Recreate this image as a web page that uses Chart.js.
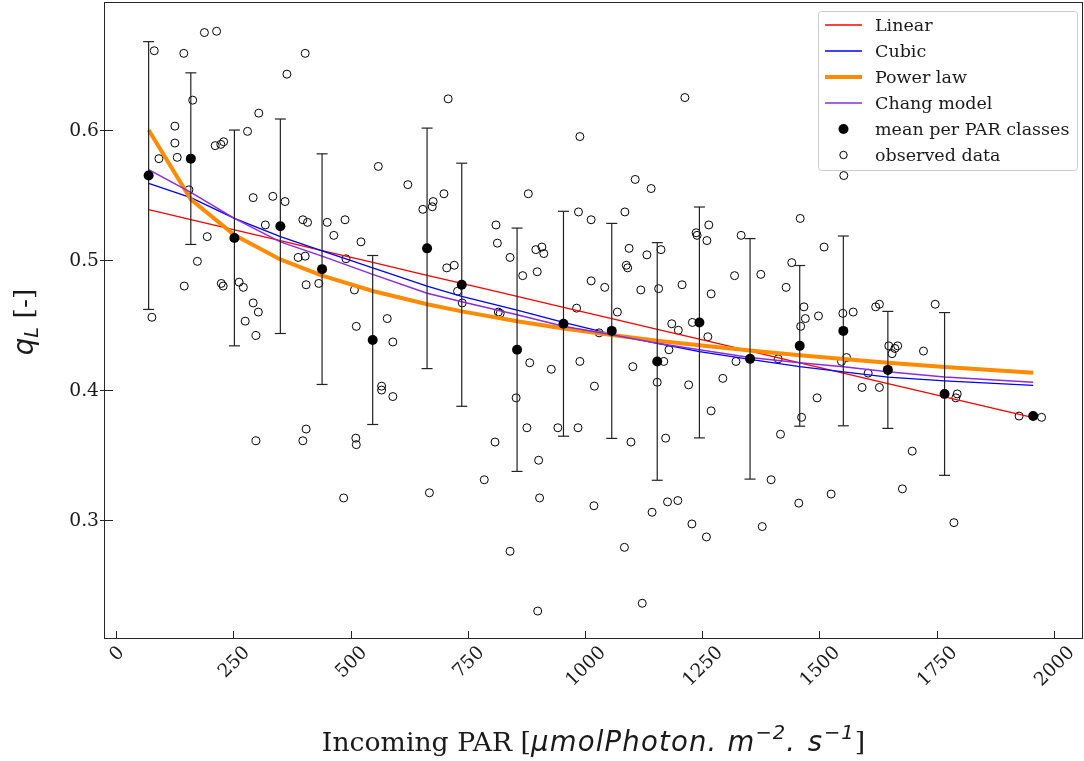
<!DOCTYPE html>
<html>
<head>
<meta charset="utf-8">
<script src="https://cdn.jsdelivr.net/npm/chart.js@4.4.0/dist/chart.umd.min.js"></script>
<style>
  html, body { margin: 0; padding: 0; background: #fff; }
  #wrap { width: 1084px; height: 761px; }
</style>
</head>
<body>
<div id="wrap"><canvas id="chart" width="1084" height="761"></canvas></div>
<script>
// --- Data ---
const xTicks = [0, 250, 500, 750, 1000, 1250, 1500, 1750, 2000];
const yTicks = [0.3, 0.4, 0.5, 0.6];
const yTickLabels = ['0.3', '0.4', '0.5', '0.6'];
const legendLabels = ['Linear', 'Cubic', 'Power law', 'Chang model', 'mean per PAR classes', 'observed data'];

// PAR classes (mean x, mean qL, error half-width)
const classX = [69, 159, 252, 350, 439, 547, 663, 737, 855, 954, 1057, 1154, 1244, 1352, 1458, 1551, 1646, 1767, 1956];
const classMean = [0.565, 0.578, 0.517, 0.526, 0.493, 0.4385, 0.509, 0.481, 0.431, 0.451, 0.4455, 0.422, 0.452, 0.424, 0.434, 0.4455, 0.4155, 0.397, 0.380];
const classErr = [0.103, 0.066, 0.083, 0.0825, 0.0887, 0.065, 0.0925, 0.0935, 0.0936, 0.0865, 0.0827, 0.0914, 0.0888, 0.0925, 0.0618, 0.073, 0.045, 0.0626, null];

// model curves evaluated at the class x values
const linearY = [0.5387, 0.5311, 0.5232, 0.5149, 0.5073, 0.4982, 0.4883, 0.4820, 0.4721, 0.4636, 0.4549, 0.4467, 0.4391, 0.4299, 0.4209, 0.4130, 0.4050, 0.3947, 0.3787];
const cubicY = [0.559, 0.548, 0.532, 0.518, 0.507, 0.494, 0.480, 0.472, 0.4615, 0.452, 0.443, 0.436, 0.4295, 0.4236, 0.418, 0.414, 0.410, 0.407, 0.4036];
const powerY = [0.600, 0.5467, 0.5192, 0.5005, 0.4880, 0.4762, 0.4660, 0.4605, 0.4529, 0.4474, 0.4423, 0.4380, 0.4344, 0.4304, 0.4268, 0.4238, 0.4210, 0.4177, 0.4133];
const changY = [0.5695, 0.552, 0.532, 0.514, 0.503, 0.489, 0.4745, 0.468, 0.458, 0.449, 0.4425, 0.436, 0.431, 0.425, 0.421, 0.418, 0.414, 0.410, 0.406];

// observed data
const obsX = [81, 144, 188, 214, 403, 364, 163, 304, 125, 280, 125, 130, 91, 211, 223, 229, 155, 292, 334, 360,
  318, 398, 408, 450, 488, 464, 194, 173, 388, 403, 490, 522, 145, 224, 228, 262, 271, 405, 432, 508,
  292, 303, 275, 76, 512, 298, 578, 590, 566, 566, 590, 298, 405, 398, 511, 512, 485, 708, 989, 559,
  622, 699, 676, 674, 654, 879, 986, 1013, 810, 813, 840, 895, 908, 912, 867, 898, 705, 721, 728, 738,
  815, 819, 982, 1013, 1069, 1185, 1199, 1030, 1179, 1168, 882, 928, 989, 1102, 1020, 1154, 853, 876, 942, 985,
  1172, 1098, 808, 901, 785, 668, 903, 1019, 1176, 1198, 1143, 840, 1084, 1122, 899, 1213, 1107, 1141, 1085, 1042,
  1094, 1132, 1162, 1088, 1091, 1119, 1157, 1207, 1237, 1239, 1264, 1260, 1269, 1333, 1319, 1375, 1459, 1441, 1429, 1467,
  1470, 1460, 1498, 1229, 1262, 1221, 1294, 1322, 1412, 1495, 1269, 1228, 1259, 1378, 1397, 1417, 1462, 1456, 1525, 1550,
  1572, 1558, 1547, 1620, 1628, 1747, 1648, 1667, 1661, 1655, 1722, 1604, 1591, 1628, 1698, 1677, 1787, 1794, 1791, 1552,
  1510, 1926, 1974];
const obsY = [0.661, 0.659, 0.675, 0.676, 0.659, 0.643, 0.623, 0.613, 0.603, 0.599, 0.590, 0.579, 0.578, 0.588, 0.589, 0.591, 0.554, 0.548, 0.549, 0.545,
  0.527, 0.531, 0.529, 0.529, 0.531, 0.519, 0.518, 0.499, 0.502, 0.503, 0.501, 0.514, 0.480, 0.482, 0.480, 0.483, 0.479, 0.481, 0.482, 0.477,
  0.467, 0.460, 0.453, 0.456, 0.449, 0.442, 0.455, 0.437, 0.403, 0.400, 0.395, 0.361, 0.370, 0.361, 0.363, 0.358, 0.317, 0.624, 0.595, 0.572,
  0.558, 0.551, 0.545, 0.541, 0.539, 0.551, 0.537, 0.531, 0.527, 0.513, 0.502, 0.508, 0.510, 0.505, 0.488, 0.491, 0.494, 0.496, 0.476, 0.467,
  0.460, 0.459, 0.463, 0.484, 0.460, 0.451, 0.446, 0.444, 0.431, 0.422, 0.421, 0.416, 0.422, 0.418, 0.403, 0.406, 0.394, 0.371, 0.371, 0.371,
  0.363, 0.360, 0.360, 0.346, 0.331, 0.321, 0.317, 0.311, 0.314, 0.315, 0.306, 0.276, 0.279, 0.236, 0.230, 0.625, 0.562, 0.555, 0.537, 0.479,
  0.509, 0.504, 0.508, 0.496, 0.494, 0.477, 0.478, 0.481, 0.521, 0.519, 0.527, 0.515, 0.474, 0.519, 0.488, 0.489, 0.532, 0.498, 0.479, 0.464,
  0.455, 0.449, 0.457, 0.452, 0.441, 0.404, 0.409, 0.422, 0.424, 0.394, 0.384, 0.297, 0.287, 0.295, 0.331, 0.366, 0.379, 0.313, 0.320, 0.459,
  0.460, 0.425, 0.422, 0.464, 0.466, 0.466, 0.434, 0.434, 0.432, 0.428, 0.430, 0.413, 0.402, 0.402, 0.353, 0.324, 0.298, 0.397, 0.394, 0.565,
  0.510, 0.380, 0.379];

// --- Styles ---
const SERIF = '"DejaVu Serif", serif';
const MATH = '"DejaVu Sans", sans-serif';
const INK = '#1a1a1a';
const RED = '#ff0000', BLUE = '#0000ff', ORANGE = '#ff8c00', PURPLE = '#8a2be2';

const pts = (xs, ys) => xs.map((x, i) => ({ x: x, y: ys[i] }));

// error bars as broken line + caps
const errLine = [];
const errCaps = [];
classX.forEach((x, i) => {
    if (classErr[i] == null) return;
    const lo = classMean[i] - classErr[i], hi = classMean[i] + classErr[i];
    errLine.push({ x: x, y: lo }, { x: x, y: hi }, { x: x, y: null });
    errCaps.push({ x: x, y: lo }, { x: x, y: hi });
});

// draw a run of text pieces with mixed fonts, centered on (0,0)
function drawPieces(ctx, pieces) {
    let total = 0;
    pieces.forEach(p => {
        ctx.font = p.font;
        ctx.letterSpacing = (p.ls || 0) + 'px';
        p.w = ctx.measureText(p.t).width;
        total += p.w;
    });
    let cx = -total / 2;
    ctx.textAlign = 'left';
    ctx.textBaseline = 'alphabetic';
    pieces.forEach(p => {
        ctx.font = p.font;
        ctx.letterSpacing = (p.ls || 0) + 'px';
        ctx.fillText(p.t, cx, p.dy || 0);
        cx += p.w;
    });
    ctx.letterSpacing = '0px';
}

const decor = {
    id: 'decor',
    afterDraw(chart) {
        const { ctx, chartArea: a, scales } = chart;
        const xs = scales.x, ys = scales.y;
        ctx.save();

        // frame
        ctx.strokeStyle = '#262626';
        ctx.lineWidth = 1;
        ctx.strokeRect(a.left + 0.5, a.top + 0.5, a.right - a.left - 1, a.bottom - a.top - 1);

        // ticks
        ctx.beginPath();
        xTicks.forEach(v => {
            const px = Math.round(xs.getPixelForValue(v)) + 0.5;
            ctx.moveTo(px, a.bottom);
            ctx.lineTo(px, a.bottom - 8);
        });
        yTicks.forEach(v => {
            const py = Math.round(ys.getPixelForValue(v)) + 0.5;
            ctx.moveTo(a.left - 4, py);
            ctx.lineTo(a.left + 9, py);
        });
        ctx.stroke();

        // tick labels
        ctx.fillStyle = INK;
        ctx.font = `18.7px ${SERIF}`;
        ctx.textAlign = 'right';
        ctx.textBaseline = 'middle';
        yTicks.forEach((v, i) => ctx.fillText(yTickLabels[i], a.left - 5, ys.getPixelForValue(v) + 1));

        ctx.textAlign = 'center';
        xTicks.forEach(v => {
            const txt = String(v);
            const w = ctx.measureText(txt).width;
            const ext = (w + 14) * Math.SQRT1_2;
            ctx.save();
            ctx.translate(xs.getPixelForValue(v) + 1, a.bottom + 6 + ext / 2);
            ctx.rotate(-Math.PI / 4);
            ctx.fillText(txt, 0, 0);
            ctx.restore();
        });

        // axis titles
        ctx.save();
        ctx.translate((a.left + a.right) / 2, 751);
        drawPieces(ctx, [
            { t: 'Incoming PAR [', font: `26.7px ${SERIF}` },
            { t: 'μmolPhoton. m', font: `italic 27.5px ${MATH}`, ls: 1.2 },
            { t: '−2', font: `italic 19.5px ${MATH}`, dy: -12, ls: 1 },
            { t: '. s', font: `italic 27.5px ${MATH}`, ls: 2 },
            { t: '−1', font: `italic 19.5px ${MATH}`, dy: -12, ls: 1 },
            { t: ']', font: `26.7px ${SERIF}` }
        ]);
        ctx.restore();

        ctx.save();
        ctx.translate(33, 322);
        ctx.rotate(-Math.PI / 2);
        drawPieces(ctx, [
            { t: 'q', font: `italic 27.5px ${MATH}` },
            { t: 'L', font: `italic 19.5px ${MATH}`, dy: 5 },
            { t: ' [-]', font: `26.7px ${SERIF}` }
        ]);
        ctx.restore();

        // legend
        ctx.fillStyle = 'rgba(255,255,255,0.8)';
        ctx.strokeStyle = '#cccccc';
        ctx.lineWidth = 1;
        ctx.beginPath();
        ctx.roundRect(818.5, 11.5, 259, 159, 3);
        ctx.fill();
        ctx.stroke();

        const lineStyles = [[RED, 1.3], [BLUE, 1.3], [ORANGE, 4], [PURPLE, 1.5]];
        legendLabels.forEach((lab, i) => {
            const ry = 25 + i * 26;
            if (i < 4) {
                ctx.strokeStyle = lineStyles[i][0];
                ctx.lineWidth = lineStyles[i][1];
                ctx.beginPath();
                ctx.moveTo(825, ry);
                ctx.lineTo(862, ry);
                ctx.stroke();
            } else if (i === 4) {
                ctx.fillStyle = '#000';
                ctx.beginPath();
                ctx.arc(843.5, ry, 5, 0, Math.PI * 2);
                ctx.fill();
            } else {
                ctx.strokeStyle = '#000';
                ctx.lineWidth = 1;
                ctx.beginPath();
                ctx.arc(843.5, ry, 3.7, 0, Math.PI * 2);
                ctx.stroke();
            }
            ctx.fillStyle = INK;
            ctx.font = `17.5px ${SERIF}`;
            ctx.textAlign = 'left';
            ctx.textBaseline = 'middle';
            ctx.fillText(lab, 875, ry + 1);
        });

        ctx.restore();
    }
};

// --- Chart ---
new Chart(document.getElementById('chart').getContext('2d'), {
    type: 'scatter',
    data: {
        datasets: [
            { label: 'mean per PAR classes', data: pts(classX, classMean), pointRadius: 5, pointHoverRadius: 5,
              backgroundColor: '#000', borderColor: '#000', borderWidth: 0, order: 0 },
            { label: 'caps', data: errCaps, pointStyle: 'line', pointRadius: 5.5, pointHoverRadius: 5.5,
              borderColor: '#222', borderWidth: 1.2, order: 1 },
            { label: 'err', data: errLine, showLine: true, pointRadius: 0, borderColor: '#222', borderWidth: 1.2,
              spanGaps: false, order: 2 },
            { label: 'Chang model', data: pts(classX, changY), showLine: true, pointRadius: 0, borderColor: PURPLE,
              borderWidth: 1.5, order: 3 },
            { label: 'Power law', data: pts(classX, powerY), showLine: true, pointRadius: 0, borderColor: ORANGE,
              borderWidth: 4, order: 4 },
            { label: 'Cubic', data: pts(classX, cubicY), showLine: true, pointRadius: 0, borderColor: BLUE,
              borderWidth: 1.3, order: 5 },
            { label: 'Linear', data: pts(classX, linearY), showLine: true, pointRadius: 0, borderColor: RED,
              borderWidth: 1.3, order: 6 },
            { label: 'observed data', data: pts(obsX, obsY), pointRadius: 4, pointHoverRadius: 4,
              backgroundColor: 'rgba(0,0,0,0)', borderColor: '#000', borderWidth: 1, order: 7 }
        ]
    },
    options: {
        responsive: false,
        animation: false,
        devicePixelRatio: 1,
        events: [],
        layout: { padding: { top: 2, right: 1, left: 0, bottom: 0 }, autoPadding: false },
        plugins: { legend: { display: false }, tooltip: { enabled: false } },
        scales: {
            x: {
                type: 'linear', min: -26.2, max: 2062.3,
                ticks: { display: false }, grid: { display: false }, border: { display: false },
                afterFit: s => { s.height = 122; }
            },
            y: {
                type: 'linear', min: 0.2085, max: 0.6985,
                ticks: { display: false }, grid: { display: false }, border: { display: false },
                afterFit: s => { s.width = 104; }
            }
        }
    },
    plugins: [decor]
});
</script>
</body>
</html>
